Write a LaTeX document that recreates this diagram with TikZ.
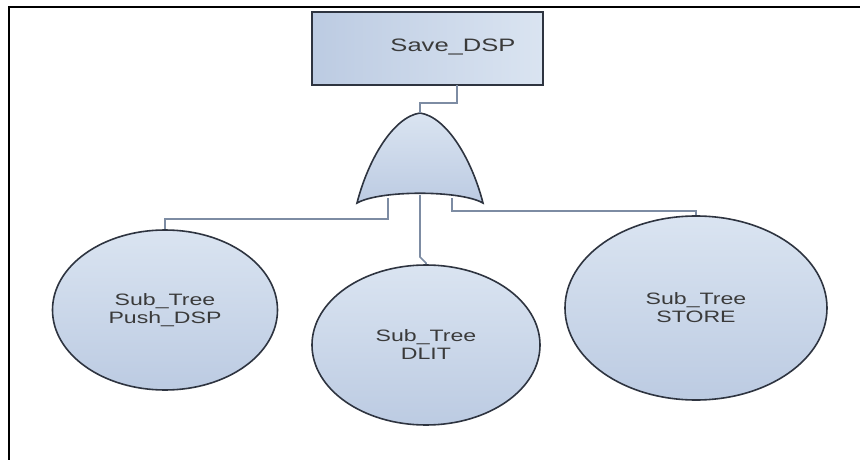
\documentclass[tikz,border=0pt]{standalone}
\usepackage{fontspec}
\setmainfont{Liberation Sans}
\definecolor{edgec}{HTML}{2E3440}
\definecolor{wirec}{HTML}{7D8CA3}
\definecolor{filltop}{HTML}{DAE4F1}
\definecolor{fillbot}{HTML}{BCCBE2}
\definecolor{txtc}{HTML}{3A3A3A}
\tikzset{
  box/.style={draw=edgec, line width=1.6pt, left color=fillbot, right color=filltop, rectangle, inner sep=0pt},
  boxtext/.style={inner sep=0pt, text=txtc, font=\fontsize{18}{18}\selectfont\addfontfeature{FakeStretch=1.42}},
  leaf/.style={draw=edgec, line width=1.6pt, top color=filltop, bottom color=fillbot, ellipse, inner sep=0pt, align=center, text=txtc, font=\fontsize{16.5}{18}\selectfont\addfontfeature{FakeStretch=1.4}},
  gatestyle/.style={draw=edgec, line width=1.6pt, top color=filltop, bottom color=fillbot},
  wire/.style={draw=wirec, line width=1.6pt},
  frame/.style={draw=black, line width=2.4pt}
}
\usetikzlibrary{shapes.geometric}
\begin{document}
\begin{tikzpicture}[x=1pt,y=-1pt]
\useasboundingbox (0,0) rectangle (860,460);
\fill[white] (0,0) rectangle (860,460);
\draw[frame] (9,461) -- (9,7) -- (861,7);

\node[box, minimum width=231pt, minimum height=73pt] (top) at (427.5,48.5) {};
\node[boxtext] (toplabel) at (453,47) {Save\_DSP};

\node[leaf, minimum width=225pt, minimum height=160pt] (e1) at (165,310) {Sub\_Tree\\Push\_DSP};
\node[leaf, minimum width=228pt, minimum height=160pt] (e2) at (426,345) {Sub\_Tree\\DLIT};
\node[leaf, minimum width=262pt, minimum height=184pt] (e3) at (696,308) {Sub\_Tree\\STORE};

% OR gate
\draw[gatestyle] (357,203) .. controls (368,160) and (393,117) .. (420,113)
  .. controls (447,117) and (472,160) .. (483,203)
  .. controls (460,190) and (380,190) .. cycle;
\coordinate (gtop) at (420,113);
\coordinate (gL) at (388,198);
\coordinate (gM) at (420,195);
\coordinate (gR) at (452,198);
\coordinate (t1) at (457,85);

\draw[wire] (t1) -- (457,103) -| (gtop);
\draw[wire] (gL) -- (388,219) -| (e1.north);
\draw[wire] (gM) -- (420,257) -- (426,263) -- (e2.north);
\draw[wire] (gR) -- (452,211) -| (e3.north);
\end{tikzpicture}
\end{document}
